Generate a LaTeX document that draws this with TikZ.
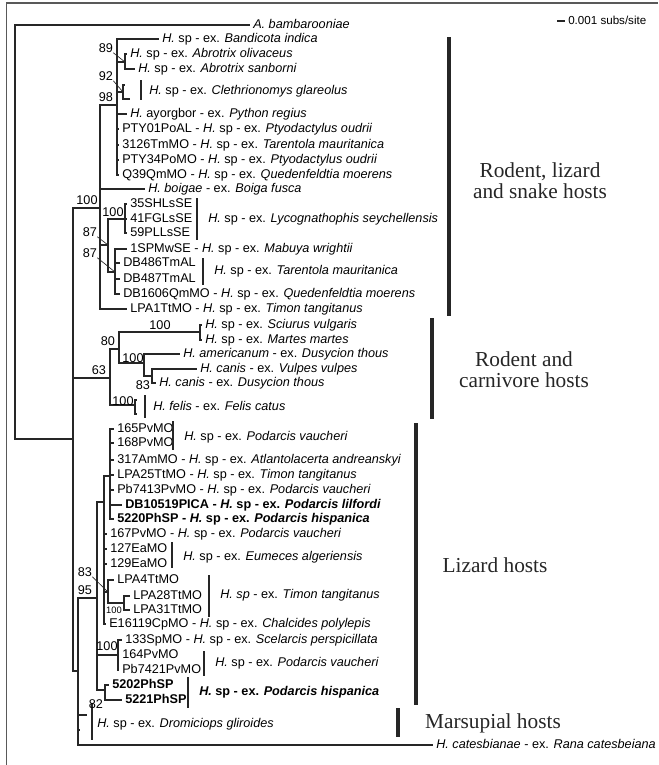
\documentclass[tikz,border=0pt]{standalone}
\usepackage{fontspec}
\setmainfont{Liberation Serif}
\setsansfont{Liberation Sans}
\newcommand{\hx}[1]{\textit{H.} sp - ex. \textit{#1}}

\begin{document}
\begin{tikzpicture}[
    x=0.75pt, y=-0.75pt,
    branch/.style={line width=0.8pt, black!85},
    leaf/.style={anchor=west, inner xsep=2.25pt, inner ysep=0pt, text height=6.8pt, text depth=1.9pt, font=\sffamily\fontsize{9.5}{10}\selectfont},
    boot/.style={inner sep=0pt, font=\sffamily\fontsize{9.5}{10}\selectfont},
    pointer/.style={line width=0.5pt, black!85},
    cladebar/.style={line width=0.8pt, black!85},
    hostbar/.style={line width=2.3pt, black!85},
    hosttag/.style={align=center, font=\fontsize{16}{15.8}\selectfont, text=black!85}
    ]

    \useasboundingbox (0,0) rectangle (658,765);
    \draw[black!65, line width=1.4pt] (6.5,765) -- (6.5,3) -- (658,3);

    % internal nodes
    \coordinate (root) at (15,232);
    \coordinate (n1) at (73,439);
    \coordinate (rls) at (100,208);
    \coordinate (n117) at (117,105);
    \coordinate (n89) at (125,62);
    \coordinate (n92) at (123,92);
    \coordinate (n87a) at (108,245);
    \coordinate (lyc) at (125,219);
    \coordinate (n87b) at (115,272);
    \coordinate (carn) at (110,378);
    \coordinate (n80) at (119,349);
    \coordinate (smart) at (200,332);
    \coordinate (namer) at (144,363);
    \coordinate (n83) at (152,376);
    \coordinate (nfel) at (135,405);
    \coordinate (n78) at (78,671);
    \coordinate (n95) at (97,598);
    \coordinate (liz) at (104,502);
    \coordinate (poly) at (110,476);
    \coordinate (nlpa4) at (108,592);
    \coordinate (nlpa28) at (124,603);
    \coordinate (n100s) at (118,655);
    \coordinate (nph) at (105,690);
    \coordinate (cle1) at (125,85);
    \coordinate (cle2) at (130,99);
    \coordinate (fel1) at (137,400);
    \coordinate (fel2) at (137,414);
    \coordinate (drom1) at (87,715);
    \coordinate (drom2) at (80,730);

    % leaves
    \node[leaf] (abam) at (250,25) {\textit{A. bambarooniae}};
    \node[leaf] (band) at (159,39) {\hx{Bandicota indica}};
    \node[leaf] (aoli) at (127,54) {\hx{Abrotrix olivaceus}};
    \node[leaf] (asan) at (135,69) {\hx{Abrotrix sanborni}};
    \node[leaf] (pyth) at (127,114) {\textit{H.} ayorgbor - ex. \textit{Python regius}};
    \node[leaf] (pty01) at (119,129) {PTY01PoAL - \hx{Ptyodactylus oudrii}};
    \node[leaf] (t3126) at (119,145) {3126TmMO - \hx{Tarentola mauritanica}};
    \node[leaf] (pty34) at (119,160) {PTY34PoMO - \hx{Ptyodactylus oudrii}};
    \node[leaf] (q39) at (119,175) {Q39QmMO - \hx{Quedenfeldtia moerens}};
    \node[leaf] (boig) at (145,189) {\textit{H. boigae} - ex. \textit{Boiga fusca}};
    \node[leaf] (s35) at (127,204) {35SHLsSE};
    \node[leaf] (s41) at (127,219) {41FGLsSE};
    \node[leaf] (s59) at (127,233) {59PLLsSE};
    \node[leaf] (spmw) at (127,249) {1SPMwSE - \hx{Mabuya wrightii}};
    \node[leaf] (db486) at (120,263) {DB486TmAL};
    \node[leaf] (db487) at (120,279) {DB487TmAL};
    \node[leaf] (db1606) at (120,294) {DB1606QmMO - \hx{Quedenfeldtia moerens}};
    \node[leaf] (lpa1) at (127,309) {LPA1TtMO - \hx{Timon tangitanus}};
    \node[leaf] (sciu) at (202,325) {\hx{Sciurus vulgaris}};
    \node[leaf] (mart) at (202,340) {\hx{Martes martes}};
    \node[leaf] (amer) at (180,354) {\textit{H. americanum} - ex. \textit{Dusycion thous}};
    \node[leaf] (vulp) at (197,369) {\textit{H. canis} - ex. \textit{Vulpes vulpes}};
    \node[leaf] (thou) at (156,383) {\textit{H. canis} - ex. \textit{Dusycion thous}};
    \node[leaf] (p165) at (114,429) {165PvMO};
    \node[leaf] (p168) at (114,443) {168PvMO};
    \node[leaf] (p317) at (114,460) {317AmMO - \hx{Atlantolacerta andreanskyi}};
    \node[leaf] (lpa25) at (114,475) {LPA25TtMO - \hx{Timon tangitanus}};
    \node[leaf] (pb7413) at (114,490) {Pb7413PvMO - \hx{Podarcis vaucheri}};
    \node[leaf] (db10519) at (122,505) {\bfseries DB10519PICA - \hx{Podarcis lilfordi}};
    \node[leaf] (p5220) at (114,519) {\bfseries 5220PhSP - \hx{Podarcis hispanica}};
    \node[leaf] (p167) at (107,534) {167PvMO - \hx{Podarcis vaucheri}};
    \node[leaf] (e127) at (107,549) {127EaMO};
    \node[leaf] (e129) at (107,564) {129EaMO};
    \node[leaf] (lpa4) at (114,580) {LPA4TtMO};
    \node[leaf] (lpa28) at (130,596) {LPA28TtMO};
    \node[leaf] (lpa31) at (130,610) {LPA31TtMO};
    \node[leaf] (e16119) at (106,624) {E16119CpMO - \hx{Chalcides polylepis}};
    \node[leaf] (s133) at (122,640) {133SpMO - \hx{Scelarcis perspicillata}};
    \node[leaf] (p164) at (119,655) {164PvMO};
    \node[leaf] (pb7421) at (119,670) {Pb7421PvMO};
    \node[leaf] (p5202) at (109,685) {\bfseries 5202PhSP};
    \node[leaf] (p5221) at (122,700) {\bfseries 5221PhSP};
    \node[leaf] (cate) at (433,745) {\textit{H. catesbianae} - ex. \textit{Rana catesbeiana}};

    % branches
    \foreach \a/\b in {root/abam.west, root/n1, n1/rls, n1/carn, n1/n78,
        rls/n117, rls/boig.west, rls/n87a, rls/lpa1.west,
        n117/band.west, n117/n89, n117/n92, n117/pyth.west, n117/pty01.west,
        n117/t3126.west, n117/pty34.west, n117/q39.west,
        n89/aoli.west, n89/asan.west, n92/cle1, n92/cle2,
        n87a/lyc, n87a/n87b, lyc/s35.west, lyc/s41.west, lyc/s59.west,
        n87b/spmw.west, n87b/db486.west, n87b/db487.west, n87b/db1606.west,
        carn/n80, carn/nfel, n80/smart, n80/namer,
        smart/sciu.west, smart/mart.west, namer/amer.west, namer/n83,
        n83/vulp.west, n83/thou.west, nfel/fel1, nfel/fel2,
        n78/n95, n78/drom1, n78/drom2, n78/cate.west,
        n95/liz, n95/n100s, n95/nph,
        liz/poly, liz/p167.west, liz/e127.west, liz/e129.west, liz/nlpa4, liz/e16119.west,
        poly/p165.west, poly/p168.west, poly/p317.west, poly/lpa25.west,
        poly/pb7413.west, poly/db10519.west, poly/p5220.west,
        nlpa4/lpa4.west, nlpa4/nlpa28, nlpa28/lpa28.west, nlpa28/lpa31.west,
        n100s/s133.west, n100s/p164.west, n100s/pb7421.west,
        nph/p5202.west, nph/p5221.west}
        \draw[branch] (\a) |- (\b);

    % bracketed taxa
    \draw[cladebar] (141,80) -- (141,100);
    \node[leaf] (cle) at (146,91) {\hx{Clethrionomys glareolus}};
    \draw[cladebar] (197,198) -- (197,240);
    \node[leaf] (lycog) at (205,219) {\hx{Lycognathophis seychellensis}};
    \draw[cladebar] (203,258) -- (203,285);
    \node[leaf] (tarm) at (211,271) {\hx{Tarentola mauritanica}};
    \draw[cladebar] (145,395) -- (145,418);
    \node[leaf] (felis) at (150,407) {\textit{H. felis} - ex. \textit{Felis catus}};
    \draw[cladebar] (173,421) -- (173,450);
    \node[leaf] (podv) at (181,437) {\hx{Podarcis vaucheri}};
    \draw[cladebar] (172,542) -- (172,568);
    \node[leaf] (eume) at (180,557) {\hx{Eumeces algeriensis}};
    \draw[cladebar] (209,575) -- (209,617);
    \node[leaf] (timon) at (217,595) {\textit{H. sp} - ex. \textit{Timon tangitanus}};
    \draw[cladebar] (204,651) -- (204,676);
    \node[leaf] (podv2) at (212,663) {\hx{Podarcis vaucheri}};
    \draw[cladebar] (188,677) -- (188,708);
    \node[leaf] (hisp) at (196,692) {\bfseries \hx{Podarcis hispanica}};
    \draw[cladebar] (92,703) -- (92,740);
    \node[leaf] (drom) at (94,724) {\hx{Dromiciops gliroides}};

    % support values
    \node[boot] (b89) at (106,48) {89};
    \node[boot] (b92) at (106,76) {92};
    \node[boot] (b98) at (106,97) {98};
    \node[boot] (b100a) at (87,200) {100};
    \node[boot] (b100b) at (113,212) {100};
    \node[boot] (b87a) at (90,232) {87};
    \node[boot] (b87b) at (90,253) {87};
    \node[boot] (b100c) at (160,325) {100};
    \node[boot] (b80) at (108,341) {80};
    \node[boot] (b100d) at (133,358) {100};
    \node[boot] (b83a) at (143,385) {83};
    \node[boot] (b63) at (99,370) {63};
    \node[boot] (b100e) at (123,401) {100};
    \node[boot] (b83b) at (85,572) {83};
    \node[boot] (b95) at (85,590) {95};
    \node[boot, font=\sffamily\fontsize{7}{8}\selectfont] (b100f) at (114,610) {100};
    \node[boot] (b100g) at (107,646) {100};
    \node[boot] (b82) at (96,704) {82};
    \draw[pointer] (b89.south east) -- (n89);
    \draw[pointer] (b92.south east) -- (n92);
    \draw[pointer] (b87a.south east) -- (n87a);
    \draw[pointer] (b87b.south east) -- (n87b);
    \draw[pointer] (b83b.south east) -- (nlpa4);

    % host groups
    \draw[hostbar] (449,37) -- (449,316);
    \draw[hostbar] (432,318) -- (432,419);
    \draw[hostbar] (416,423) -- (416,705);
    \draw[hostbar] (398,708) -- (398,737);
    \node[hosttag] (rlsh) at (540,181) {Rodent, lizard\\and snake hosts};
    \node[hosttag] (rch) at (524,370) {Rodent and\\carnivore hosts};
    \node[hosttag] (lh) at (495,565) {Lizard hosts};
    \node[hosttag] (mh) at (493,723) {Marsupial hosts};

    % scale
    \coordinate (sb) at (557,21);
    \node[leaf, font=\sffamily\fontsize{8.7}{9}\selectfont] (scale) at (565,21) {0.001 subs/site};
    \draw[branch] (sb) -- (scale.west);

\end{tikzpicture}
\end{document}
